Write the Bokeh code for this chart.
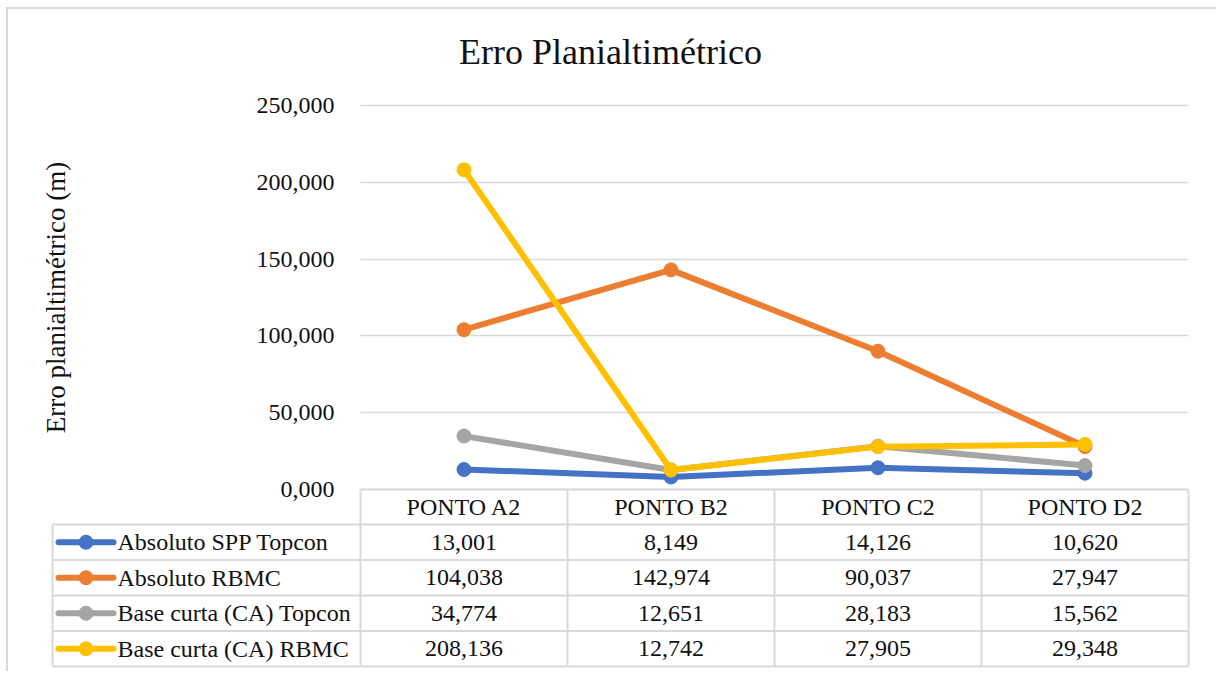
from bokeh.plotting import figure
from bokeh.models import FixedTicker, CustomJSTickFormatter, Range1d, Grid
from bokeh.core.properties import value
from bokeh.embed import file_html
from bokeh.resources import INLINE

# ---------------- data ----------------
categories = ["PONTO A2", "PONTO B2", "PONTO C2", "PONTO D2"]
series_names = ["Absoluto SPP Topcon", "Absoluto RBMC",
                "Base curta (CA) Topcon", "Base curta (CA) RBMC"]
spp_topcon = [13.001, 8.149, 14.126, 10.620]
abs_rbmc = [104.038, 142.974, 90.037, 27.947]
ca_topcon = [34.774, 12.651, 28.183, 15.562]
ca_rbmc = [208.136, 12.742, 27.905, 29.348]
y_ticks = [0, 50, 100, 150, 200, 250]
colors = ["#4472C4", "#ED7D31", "#A5A5A5", "#FFC000"]

series = [spp_topcon, abs_rbmc, ca_topcon, ca_rbmc]
xs = list(range(len(categories)))

# ---------------- geometry ----------------
OFF_X, OFF_Y = 8, 9               # canvas offset inside the bordered box
W, H = 1210, 664
PX_X = 207.0      # pixels per category
PX_Y = 1.536      # pixels per y unit
FRAME_L, FRAME_T = 30 - OFF_X, 82 - OFF_Y
ZERO_X, ZERO_Y = 360 - OFF_X, 489 - OFF_Y
FRAME_R, FRAME_B = 1190 - OFF_X, 668 - OFF_Y
TABLE_L = 52 - OFF_X

x_start = -0.5 - (ZERO_X - FRAME_L) / PX_X
x_end = -0.5 + (FRAME_R - ZERO_X) / PX_X
y_end = (ZERO_Y - FRAME_T) / PX_Y
y_start = -(FRAME_B - ZERO_Y) / PX_Y

FONT = "'Liberation Serif'"
TXT = "#111111"
GRID = "#d9d9d9"

p = figure(width=W, height=H, output_backend="svg", toolbar_location=None,
           x_range=Range1d(x_start, x_end), y_range=Range1d(y_start, y_end),
           min_border_left=FRAME_L, min_border_right=W - FRAME_R,
           min_border_top=FRAME_T, min_border_bottom=H - FRAME_B)
p.margin = (7, 0, 0, 6)
p.styles = {"border-top": f"2px solid {GRID}", "border-left": f"2px solid {GRID}"}
p.outline_line_color = None
p.background_fill_color = "white"
p.border_fill_color = "white"

p.title.text = "Erro Planialtimétrico"
p.title.align = "center"
p.title.text_font = FONT
p.title.text_font_size = "36px"
p.title.text_font_style = "normal"
p.title.text_color = TXT
p.title.standoff = 22

p.xaxis.visible = False
p.xgrid.visible = False

yaxis = p.yaxis[0]
yaxis.fixed_location = -0.5
yaxis.bounds = (0, 250)
yaxis.ticker = FixedTicker(ticks=y_ticks)
yaxis.formatter = CustomJSTickFormatter(code="return tick.toFixed(3).replace('.', ',')")
yaxis.axis_line_color = None
yaxis.major_tick_line_color = None
yaxis.minor_tick_line_color = None
yaxis.major_label_standoff = 20
yaxis.major_label_text_font = FONT
yaxis.major_label_text_font_size = "24px"
yaxis.major_label_text_font_style = "normal"
yaxis.major_label_text_color = TXT
yaxis.axis_label = "Erro planialtimétrico (m)"
yaxis.axis_label_text_font = FONT
yaxis.axis_label_text_font_size = "27px"
yaxis.axis_label_text_font_style = "normal"
yaxis.axis_label_text_color = TXT
yaxis.axis_label_standoff = 183

yg = p.ygrid[0]
yg.ticker = FixedTicker(ticks=y_ticks)
yg.grid_line_color = GRID
yg.grid_line_width = 1.5
if "cross_bounds" in Grid.properties():
    yg.cross_bounds = (-0.5, len(categories) - 0.5)

# ---------------- data table ----------------
n = len(categories)
tab_l = -0.5 - (ZERO_X - TABLE_L) / PX_X
head_h = 35 / PX_Y
row_h = 35.5 / PX_Y
row_tops = [-head_h - k * row_h for k in range(len(series_names) + 1)]
tab_b = row_tops[-1]

hx0, hx1, hy = [-0.5], [n - 0.5], [0]
for yv in row_tops:
    hx0.append(tab_l); hx1.append(n - 0.5); hy.append(yv)
p.segment(x0=hx0, x1=hx1, y0=hy, y1=hy, line_color=GRID, line_width=2)

vx, vy0, vy1 = [], [], []
for k in range(n + 1):
    vx.append(k - 0.5); vy0.append(0); vy1.append(tab_b)
vx.append(tab_l); vy0.append(row_tops[0]); vy1.append(tab_b)
p.segment(x0=vx, x1=vx, y0=vy0, y1=vy1, line_color=GRID, line_width=2)

text_kw = dict(text_baseline="middle", text_font=value(FONT),
               text_font_size="24px", text_font_style="normal", text_color=TXT)

head_mid = -head_h / 2
p.text(x=xs, y=[head_mid] * n, text=categories, text_align="center", **text_kw)

row_mids = [row_tops[k] - row_h / 2 for k in range(len(series_names))]
for k, vals in enumerate(series):
    labels = [f"{v:.3f}".replace(".", ",") for v in vals]
    p.text(x=xs, y=[row_mids[k]] * n, text=labels, text_align="center", **text_kw)
    # legend key
    lx0 = tab_l + 6 / PX_X
    lx1 = tab_l + 61 / PX_X
    p.segment(x0=[lx0], x1=[lx1], y0=[row_mids[k]], y1=[row_mids[k]],
              line_color=colors[k], line_width=6, line_cap="round")
    p.scatter(x=[(lx0 + lx1) / 2], y=[row_mids[k]], size=14, color=colors[k])
    p.text(x=[tab_l + 65 / PX_X], y=[row_mids[k]], text=[series_names[k]],
           text_align="left", **text_kw)

# ---------------- series lines ----------------
for k, vals in enumerate(series):
    p.line(x=xs, y=vals, line_color=colors[k], line_width=6,
           line_join="round", line_cap="round")
    p.scatter(x=xs, y=vals, size=14, color=colors[k])

open("out.html", "w").write(file_html(p, INLINE))
